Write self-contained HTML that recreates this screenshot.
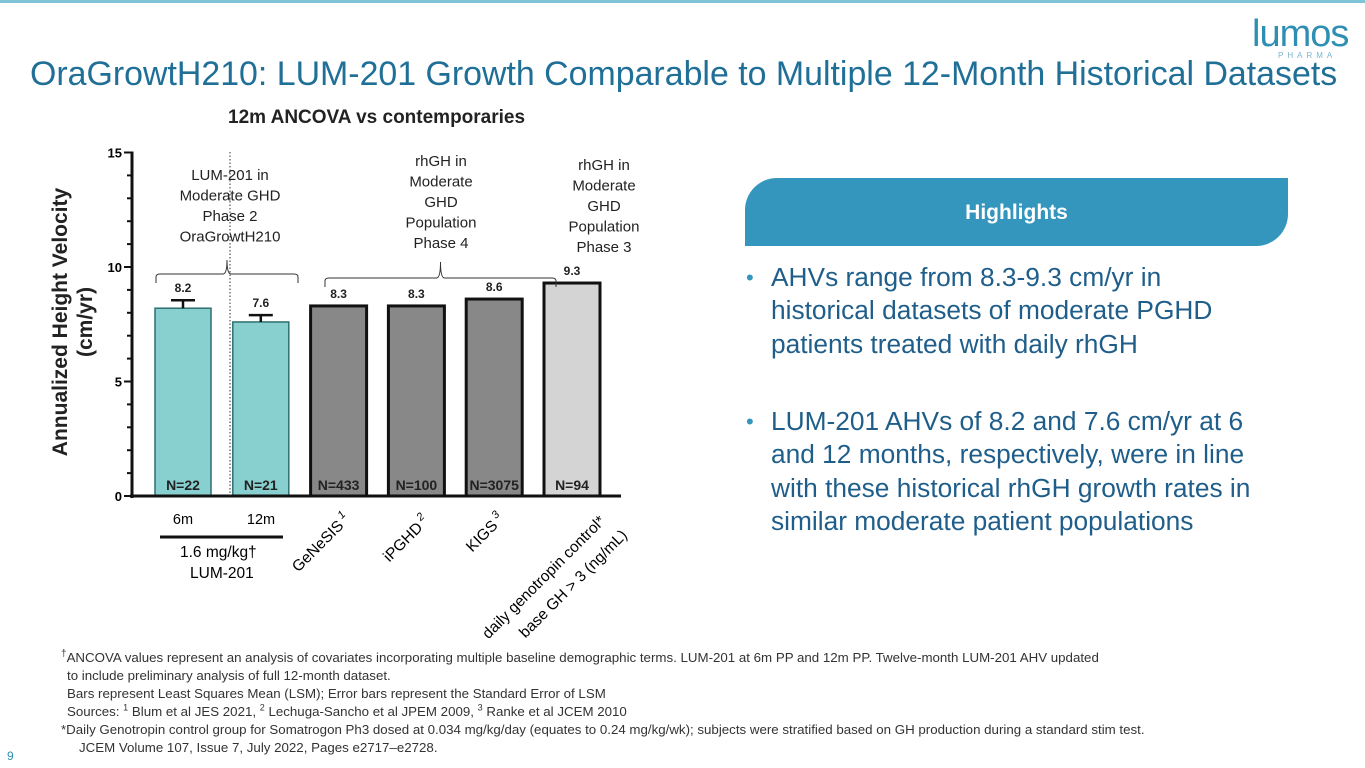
<!DOCTYPE html>
<html><head><meta charset="utf-8"><style>
body{margin:0;width:1365px;height:768px;overflow:hidden;background:#fff;font-family:"Liberation Sans",sans-serif;position:relative}
.abs{position:absolute}
.b{position:absolute;left:730px;width:492px;padding-left:41px;color:#1f5e8a;font-size:26.3px;line-height:33.3px}
.b span{position:absolute;left:16px;top:0;color:#3596bd;font-size:22px}
</style></head><body>
<div class="abs" style="left:0;top:0;width:1365px;height:3px;background:#7fc4d8"></div>
<div class="abs" style="left:1252px;top:14px;color:#2e8fb3;font-size:38px;letter-spacing:-1px;line-height:40px">lumos</div>
<div class="abs" style="left:1278px;top:51px;color:#7ab6cc;font-size:8px;letter-spacing:4px">PHARMA</div>
<div class="abs" style="left:30px;top:55px;color:#1f6f97;font-size:33.9px;white-space:nowrap">OraGrowtH210: LUM-201 Growth Comparable to Multiple 12-Month Historical Datasets</div>
<div class="abs" style="left:228px;top:107px;font-size:19px;font-weight:bold;color:#222">12m ANCOVA vs contemporaries</div>

<svg class="abs" style="left:0;top:0" width="700" height="650" font-family="Liberation Sans, sans-serif">
<g id="g"></g>
</svg>

<div class="abs" style="left:745px;top:178px;width:543px;height:68px;background:#3596bd;border-radius:32px 0 32px 0;color:#fff;font-weight:bold;font-size:21px;text-align:center;line-height:70px">Highlights</div>
<div class="b" style="top:261px"><span>•</span>AHVs range from 8.3-9.3 cm/yr in historical datasets of moderate PGHD patients treated with daily rhGH</div>
<div class="b" style="top:405px"><span>•</span>LUM-201 AHVs of 8.2 and 7.6 cm/yr at 6 and 12 months, respectively, were in line with these historical rhGH growth rates in similar moderate patient populations</div>

<div class="abs" style="left:61px;top:649px;font-size:13.3px;color:#333;line-height:18px;white-space:nowrap">
<div><sup style="font-size:10px;line-height:0">†</sup>ANCOVA values represent an analysis of covariates incorporating multiple baseline demographic terms. LUM-201 at 6m PP and 12m PP. Twelve-month LUM-201 AHV updated</div>
<div style="padding-left:6px">to include preliminary analysis of full 12-month dataset.</div>
<div style="padding-left:6px">Bars represent Least Squares Mean (LSM); Error bars represent the Standard Error of LSM</div>
<div style="padding-left:6px">Sources: <sup style="font-size:9px;line-height:0">1</sup> Blum et al JES 2021, <sup style="font-size:9px;line-height:0">2</sup> Lechuga-Sancho et al JPEM 2009, <sup style="font-size:9px;line-height:0">3</sup> Ranke et al JCEM 2010</div>
<div>*Daily Genotropin control group for Somatrogon Ph3 dosed at 0.034 mg/kg/day (equates to 0.24 mg/kg/wk); subjects were stratified based on GH production during a standard stim test.</div>
<div style="padding-left:18px">JCEM Volume 107, Issue 7, July 2022, Pages e2717–e2728.</div>
</div>
<div class="abs" style="left:7px;top:749px;font-size:12px;color:#2e8fb3">9</div>

<script>
const categories=["6m","12m","GeNeSIS","iPGHD","KIGS","daily genotropin control"];
const values=[8.2,7.6,8.3,8.3,8.6,9.3];
const errors=[0.35,0.3,null,null,null,null];
const nLabels=["N=22","N=21","N=433","N=100","N=3075","N=94"];
const yTicks=[0,5,10,15];
const NS="http://www.w3.org/2000/svg";
const g=document.getElementById('g');
const y0=496,pxu=22.9,x0=132;
const y=v=>y0-v*pxu;
const xc=i=>183+i*77.8;
function el(t,a,txt){const e=document.createElementNS(NS,t);for(const k in a)e.setAttribute(k,a[k]);if(txt!==undefined)e.textContent=txt;g.appendChild(e);return e;}
const fills=["#88d0d0","#88d0d0","#888888","#888888","#888888","#d4d4d4"];
const strokes=["#2f6f6f","#2f6f6f","#111","#111","#111","#111"];
values.forEach((v,i)=>{
 const b=el('rect',{x:xc(i)-28,y:y(v),width:56,height:v*pxu,fill:fills[i],stroke:strokes[i],'stroke-width':i<2?1.5:3});
 
 
 let top=y(v);
 if(errors[i]){const ty=y(v+errors[i]);el('line',{x1:xc(i),x2:xc(i),y1:top,y2:ty,stroke:'#111','stroke-width':2.5});el('line',{x1:xc(i)-12,x2:xc(i)+12,y1:ty,y2:ty,stroke:'#111','stroke-width':2.5});top=ty;}
 const t=el('text',{x:xc(i),y:top-8,'text-anchor':'middle','font-size':12,'font-weight':'bold',fill:'#222'},v.toFixed(1));
 
 
 el('text',{x:xc(i),y:y0-6,'text-anchor':'middle','font-size':14,'font-weight':'bold',fill:'#222'},nLabels[i]);
});
el('line',{x1:x0,x2:x0,y1:y(15)-1,y2:y0+2,stroke:'#111','stroke-width':3});
el('line',{x1:x0-2,x2:621,y1:y0,y2:y0,stroke:'#111','stroke-width':3});
for(let v=0;v<=15;v++){const maj=v%5==0;el('line',{x1:x0-(maj?8:5),x2:x0,y1:y(v),y2:y(v),stroke:'#111','stroke-width':2});}
yTicks.forEach(v=>el('text',{x:x0-10,y:y(v)+5,'text-anchor':'end','font-size':13,'font-weight':'bold'},v));
const yt=el('text',{transform:'translate(73,322) rotate(-90)','text-anchor':'middle','font-size':21,'font-weight':'bold',fill:'#222'});

yt.innerHTML='<tspan x="0" dy="-6">Annualized Height Velocity</tspan><tspan x="0" dy="25">(cm/yr)</tspan>';
el('line',{x1:230,x2:230,y1:152,y2:y0,stroke:'#333','stroke-width':1,'stroke-dasharray':'1.5,2'});
el('text',{x:183,y:524,'text-anchor':'middle','font-size':14.5},'6m');
el('text',{x:261,y:524,'text-anchor':'middle','font-size':14.5},'12m');
el('line',{x1:160,x2:283,y1:537,y2:537,stroke:'#111','stroke-width':3});
el('text',{x:180,y:557,'font-size':15.5},'1.6 mg/kg†');
el('text',{x:190,y:578,'font-size':15.5},'LUM-201');
const rot=[["GeNeSIS",351,520,"1"],["iPGHD",430,522,"2"],["KIGS",505,520,"3"]];
rot.forEach(r=>{const t=el('text',{transform:`translate(${r[1]},${r[2]}) rotate(-45)`,'text-anchor':'end','font-size':15.5});t.innerHTML=r[0]+'<tspan dy="-7" font-size="11" font-style="italic"> '+r[3]+'</tspan>';});
el('text',{transform:'translate(606,522) rotate(-45)','text-anchor':'end','font-size':15.5},'daily genotropin control*');
el('text',{transform:'translate(628,536) rotate(-45)','text-anchor':'end','font-size':15.5},'base GH > 3 (ng/mL)');
function brace(x1,x2,yb,ym){const m=(x1+x2)/2;el('path',{d:`M${x1},${yb} L${x1},${yb-6} Q${x1},${yb-9} ${x1+4},${yb-9} L${m-4},${yb-9} Q${m},${yb-9} ${m},${ym} Q${m},${yb-9} ${m+4},${yb-9} L${x2-4},${yb-9} Q${x2},${yb-9} ${x2},${yb-6} L${x2},${yb}`,fill:'none',stroke:'#333','stroke-width':1});}
brace(156,298,283,260);brace(325,556,287,262);
function lines(arr,x,y0){arr.forEach((s,i)=>el('text',{x:x,y:y0+i*20.5,'text-anchor':'middle','font-size':15,fill:'#222'},s));}
lines(["LUM-201 in","Moderate GHD","Phase 2","OraGrowtH210"],230,180);
lines(["rhGH in","Moderate","GHD","Population","Phase 4"],441,166);
lines(["rhGH in","Moderate","GHD","Population","Phase 3"],604,170);
</script>
</body></html>
